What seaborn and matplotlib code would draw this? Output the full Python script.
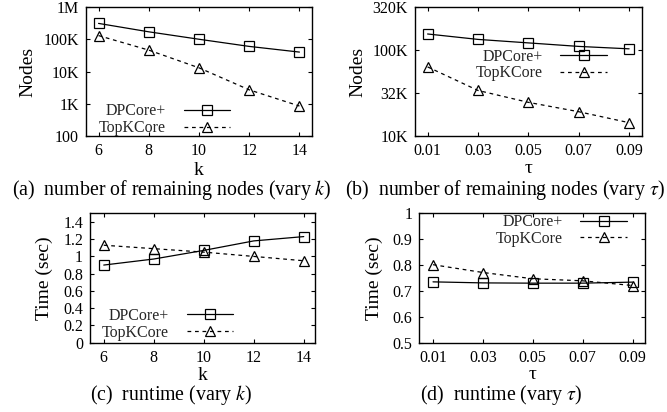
import numpy as np
import pandas as pd
import matplotlib
matplotlib.use("Agg")
import matplotlib.pyplot as plt
import seaborn as sns
from matplotlib.ticker import NullLocator

# ---------------- data ----------------
methods = ["DPCore+", "TopKCore"]

k_values = [6, 8, 10, 12, 14]
tau_values = [0.01, 0.03, 0.05, 0.07, 0.09]
tau_labels = ["0.01", "0.03", "0.05", "0.07", "0.09"]

nodes_k_dpcore = [310000, 170000, 100000, 60000, 40000]
nodes_k_topk = [130000, 46000, 13000, 2700, 850]

nodes_tau_dpcore = [155000, 134000, 122000, 111000, 104000]
nodes_tau_topk = [64000, 34000, 24700, 19200, 14300]

time_k_dpcore = [0.90, 0.97, 1.07, 1.18, 1.23]
time_k_topk = [1.13, 1.09, 1.05, 1.00, 0.95]

time_tau_dpcore = [0.734, 0.730, 0.729, 0.729, 0.733]
time_tau_topk = [0.800, 0.770, 0.746, 0.738, 0.720]

nodes_k_ticks = [100, 1000, 10000, 100000, 1000000]
nodes_k_ticklabels = ["100", "1K", "10K", "100K", "1M"]
nodes_tau_ticks = [10000, 32000, 100000, 320000]
nodes_tau_ticklabels = ["10K", "32K", "100K", "320K"]
time_k_ticks = [0, 0.2, 0.4, 0.6, 0.8, 1.0, 1.2, 1.4]
time_k_ticklabels = ["0", "0.2", "0.4", "0.6", "0.8", "1", "1.2", "1.4"]
time_tau_ticks = [0.5, 0.6, 0.7, 0.8, 0.9, 1.0]
time_tau_ticklabels = ["0.5", "0.6", "0.7", "0.8", "0.9", "1"]

captions = [
    "(a)  number of remaining nodes (vary $k$)",
    "(b)  number of remaining nodes (vary $\\tau$)",
    "(c)  runtime (vary $k$)",
    "(d)  runtime (vary $\\tau$)",
]

# ---------------- style ----------------
sns.set_theme(style="ticks")
plt.rcParams["font.family"] = ["Liberation Serif", "DejaVu Serif"]
plt.rcParams["mathtext.fontset"] = "stix"
plt.rcParams["axes.linewidth"] = 1.0

TICK_FS = 11.5
LAB_FS = 14
LEG_FS = 11.5
CAP_FS = 14.3


def make_df(x, a, b):
    return pd.DataFrame({
        "x": list(x) * 2,
        "y": list(a) + list(b),
        "method": [methods[0]] * len(x) + [methods[1]] * len(x),
    })


fig = plt.figure(figsize=(6.67, 4.12), dpi=100)

W, H = 667.0, 412.0


def add_ax(l, r, t, b):
    return fig.add_axes([l / W, 1 - b / H, (r - l) / W, (b - t) / H])


ax_a = add_ax(86, 312, 7, 136)
ax_b = add_ax(415, 641.7, 7, 136)
ax_c = add_ax(90, 315, 213.3, 342.7)
ax_d = add_ax(419.3, 645, 212.7, 342.7)

panels = [
    (ax_a, make_df(k_values, nodes_k_dpcore, nodes_k_topk)),
    (ax_b, make_df(tau_values, nodes_tau_dpcore, nodes_tau_topk)),
    (ax_c, make_df(k_values, time_k_dpcore, time_k_topk)),
    (ax_d, make_df(tau_values, time_tau_dpcore, time_tau_topk)),
]

for ax, df in panels:
    sns.lineplot(
        data=df, x="x", y="y", style="method", style_order=methods,
        markers={"DPCore+": "s", "TopKCore": "^"},
        dashes={"DPCore+": "", "TopKCore": (3, 3)},
        color="black", linewidth=0.9, markersize=7.5,
        markeredgecolor="black", markeredgewidth=0.9,
        errorbar=None, legend=False, ax=ax,
    )
    for ln in ax.lines:
        ln.set_markerfacecolor("none")
        ln.set_markeredgecolor("black")
        ln.set_color("black")
    ax.tick_params(direction="in", top=True, right=True, length=3,
                   width=0.8, labelsize=TICK_FS, colors="black")
    ax.tick_params(axis="x", pad=5)
    ax.tick_params(axis="y", pad=5)
    for s in ax.spines.values():
        s.set_visible(True)
        s.set_color("black")
        s.set_linewidth(1.0)

# axis scales / ticks
ax_a.set_yscale("log")
ax_a.set_ylim(100, 1000000)
ax_a.set_yticks(nodes_k_ticks)
ax_a.set_yticklabels(nodes_k_ticklabels)
ax_a.set_xlim(5.5, 14.5)
ax_a.set_xticks(k_values)
ax_a.set_xticklabels([str(v) for v in k_values])

ax_b.set_yscale("log")
ax_b.set_ylim(10000, 320000)
ax_b.set_yticks(nodes_tau_ticks)
ax_b.set_yticklabels(nodes_tau_ticklabels)
ax_b.set_xlim(0.005, 0.095)
ax_b.set_xticks(tau_values)
ax_b.set_xticklabels(tau_labels)

ax_c.set_ylim(0, 1.5)
ax_c.set_yticks(time_k_ticks)
ax_c.set_yticklabels(time_k_ticklabels)
ax_c.set_xlim(5.45, 14.45)
ax_c.set_xticks(k_values)
ax_c.set_xticklabels([str(v) for v in k_values])

ax_d.set_ylim(0.5, 1.0)
ax_d.set_yticks(time_tau_ticks)
ax_d.set_yticklabels(time_tau_ticklabels)
ax_d.set_xlim(0.0045, 0.095)
ax_d.set_xticks(tau_values)
ax_d.set_xticklabels(tau_labels)

for ax in (ax_a, ax_b, ax_c, ax_d):
    ax.yaxis.set_minor_locator(NullLocator())
    ax.xaxis.set_minor_locator(NullLocator())

# labels
ylabels = ["Nodes", "Nodes", "Time (sec)", "Time (sec)"]
xlabels = ["k", "\u03c4", "k", "\u03c4"]
ylab_x = [-0.218, -0.213, -0.163, -0.16]
xlab_y = [-0.302, -0.29, -0.285, -0.28]
for ax, yl, xl, yx, xy in zip((ax_a, ax_b, ax_c, ax_d), ylabels, xlabels, ylab_x, xlab_y):
    ax.set_ylabel(yl, fontsize=LAB_FS, color="black")
    ax.set_xlabel(xl, fontsize=LAB_FS, color="black")
    ax.yaxis.set_label_coords(yx, 0.5)
    ax.xaxis.set_label_coords(0.5, xy)
    ax.xaxis.label.set_verticalalignment("baseline")

# legends (text left of sample, right-aligned)
leg_pos = [
    (ax_a, (230 - 86) / 226.0, (136 - 119.7) / 129.0),
    (ax_b, (606.7 - 415) / 226.7, (136 - 65.0) / 129.0),
    (ax_c, (233 - 90) / 225.0, (342.7 - 324.2) / 129.4),
    (ax_d, (626.7 - 419.3) / 225.7, (342.7 - 230.5) / 130.0),
]
for ax, lx, ly in leg_pos:
    handles = ax.lines[:2]
    ax.legend(handles=handles, labels=methods, loc="center right",
              bbox_to_anchor=(lx, ly), frameon=False, markerfirst=False,
              fontsize=LEG_FS, handlelength=2.9, handletextpad=1.1,
              labelspacing=0.05, borderpad=0, borderaxespad=0)

# captions
cap_pos = [(0.257, 0.527), (0.757, 0.527), (0.256, 0.028), (0.751, 0.028)]
for (cx, cy), cap in zip(cap_pos, captions):
    fig.text(cx, cy, cap, ha="center", va="baseline", fontsize=CAP_FS, color="black")

fig.savefig("out.png", dpi=100)
